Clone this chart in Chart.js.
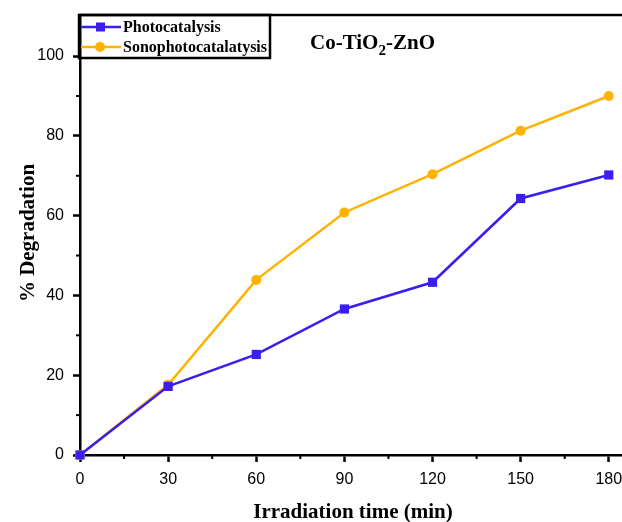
<!DOCTYPE html>
<html>
<head>
<meta charset="utf-8">
<script src="https://cdn.jsdelivr.net/npm/chart.js@4/dist/chart.umd.min.js"></script>
<style>
  html, body { margin: 0; padding: 0; background: #fff; }
  #wrap { width: 622px; height: 522px; }
</style>
</head>
<body>
<div id="wrap"><canvas id="plot" width="622" height="522"></canvas></div>
<script>
// irradiation time (min)
const times = [0, 30, 60, 90, 120, 150, 180];
// % degradation
const photo = [0, 17.2, 25.2, 36.6, 43.3, 64.3, 70.2];
const sono = [0, 17.6, 43.9, 60.8, 70.4, 81.3, 90.0];
const xTicks = [0, 30, 60, 90, 120, 150, 180];
const yTicks = [0, 20, 40, 60, 80, 100];

const blue = 'rgb(58, 30, 240)';
const orange = 'rgb(255, 178, 0)';
const serif = '"Liberation Serif", "Times New Roman", serif';
const sans = '"Liberation Sans", Arial, sans-serif';

/* extra drawing: minor ticks, frame top, titles, legend */
const extras = {
  id: 'extras',
  afterDraw(chart) {
    const ctx = chart.ctx;
    const a = chart.chartArea;
    const xs = chart.scales.x, ys = chart.scales.y;
    ctx.save();
    ctx.strokeStyle = '#000';
    ctx.lineWidth = 2;
    // minor ticks
    for (let v = 15; v < 185; v += 30) {
      const px = xs.getPixelForValue(v);
      ctx.beginPath(); ctx.moveTo(px, a.bottom); ctx.lineTo(px, a.bottom + 4); ctx.stroke();
    }
    for (let v = 10; v < 110; v += 20) {
      const py = ys.getPixelForValue(v);
      ctx.beginPath(); ctx.moveTo(a.left, py); ctx.lineTo(a.left - 4, py); ctx.stroke();
    }
    // top frame line
    ctx.lineWidth = 2.5;
    ctx.beginPath(); ctx.moveTo(a.left - 1, a.top); ctx.lineTo(chart.width, a.top); ctx.stroke();

    // axis titles
    ctx.fillStyle = '#000';
    ctx.font = 'bold 21px ' + serif;
    ctx.textAlign = 'center';
    ctx.textBaseline = 'alphabetic';
    ctx.fillText('Irradiation time (min)', 353, 518);
    ctx.save();
    ctx.translate(34, 233);
    ctx.rotate(-Math.PI / 2);
    ctx.fillText('% Degradation', 0, 0);
    ctx.restore();

    // inner title with subscript
    ctx.textAlign = 'left';
    ctx.font = 'bold 21px ' + serif;
    let x = 310;
    const base = 49;
    ctx.fillText('Co-TiO', x, base); x += ctx.measureText('Co-TiO').width;
    ctx.font = 'bold 15px ' + serif;
    ctx.fillText('2', x, base + 6); x += ctx.measureText('2').width;
    ctx.font = 'bold 21px ' + serif;
    ctx.fillText('-ZnO', x, base);

    // legend box
    ctx.strokeStyle = '#000';
    ctx.lineWidth = 2.5;
    ctx.strokeRect(79, a.top, 191, 43);
    const rows = [
      { label: 'Photocatalysis', color: blue, shape: 'rect', y: a.top + 12 },
      { label: 'Sonophotocatalatysis', color: orange, shape: 'circle', y: a.top + 32 }
    ];
    ctx.font = 'bold 16px ' + serif;
    ctx.textBaseline = 'middle';
    rows.forEach(r => {
      ctx.strokeStyle = r.color;
      ctx.fillStyle = r.color;
      ctx.lineWidth = 2.5;
      ctx.beginPath(); ctx.moveTo(81, r.y); ctx.lineTo(121, r.y); ctx.stroke();
      if (r.shape === 'rect') ctx.fillRect(96, r.y - 4.5, 9, 9);
      else { ctx.beginPath(); ctx.arc(100, r.y, 5, 0, Math.PI * 2); ctx.fill(); }
      ctx.fillStyle = '#000';
      ctx.fillText(r.label, 123, r.y + 1);
    });
    ctx.restore();
  }
};

window.onload = function () {
  const cfg = {
    type: 'line',
    data: {
      datasets: [
        {
          label: 'Photocatalysis',
          data: times.map((t, i) => ({ x: t, y: photo[i] })),
          borderColor: blue, backgroundColor: blue,
          borderWidth: 2.5, pointStyle: 'rect', pointRadius: 6.5,
          pointBorderWidth: 0, tension: 0, clip: false
        },
        {
          label: 'Sonophotocatalatysis',
          data: times.map((t, i) => ({ x: t, y: sono[i] })),
          borderColor: orange, backgroundColor: orange,
          borderWidth: 2.5, pointStyle: 'circle', pointRadius: 5,
          pointBorderWidth: 0, tension: 0, clip: false
        }
      ]
    },
    options: {
      responsive: false,
      animation: false,
      events: [],
      layout: { autoPadding: false, padding: { top: 15, right: 0, left: 0, bottom: 0 } },
      plugins: { legend: { display: false }, tooltip: { enabled: false } },
      scales: {
        x: {
          type: 'linear', min: 0, max: 184.5,
          afterFit(s) { s.height = 67; s.paddingRight = 0; s.paddingLeft = 0; },
          afterBuildTicks(s) { s.ticks = xTicks.map(v => ({ value: v })); },
          grid: { display: true, drawOnChartArea: false, drawTicks: true, tickLength: 7, tickWidth: 2.5, tickColor: '#000' },
          border: { display: true, color: '#000', width: 2.5 },
          ticks: { padding: 8, color: '#000', font: { family: sans, size: 16 }, maxRotation: 0 }
        },
        y: {
          min: 0, max: 110.3,
          afterFit(s) { s.width = 80; s.paddingTop = 0; s.paddingBottom = 0; },
          afterBuildTicks(s) { s.ticks = yTicks.map(v => ({ value: v })); },
          grid: { display: true, drawOnChartArea: false, drawTicks: true, tickLength: 7, tickWidth: 2.5, tickColor: '#000' },
          border: { display: true, color: '#000', width: 2.5 },
          ticks: { padding: 9, color: '#000', font: { family: sans, size: 16 } }
        }
      }
    },
    plugins: [extras]
  };
  new Chart(document.getElementById('plot'), cfg);
};
</script>
</body>
</html>
